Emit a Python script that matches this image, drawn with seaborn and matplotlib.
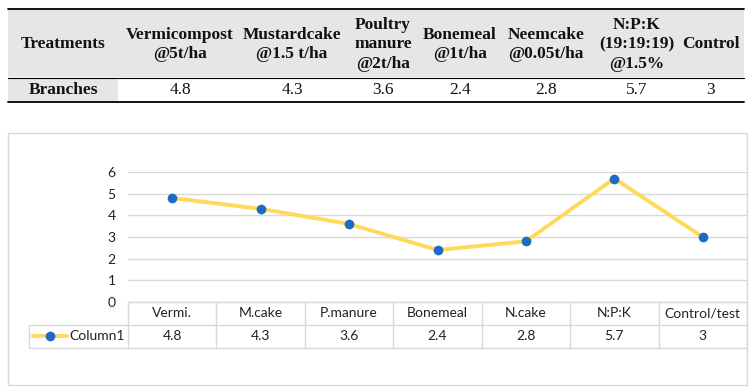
import numpy as np
import matplotlib
matplotlib.use("Agg")
import matplotlib.pyplot as plt
import matplotlib.transforms as mtransforms
from matplotlib.patches import Rectangle
import seaborn as sns

# ==========================
# data
# ==========================
treatments = ["Vermicompost\n@5t/ha", "Mustardcake\n@1.5 t/ha", "Poultry\nmanure\n@2t/ha",
              "Bonemeal\n@1t/ha", "Neemcake\n@0.05t/ha", "N:P:K\n(19:19:19)\n@1.5%", "Control"]
branches = [4.8, 4.3, 3.6, 2.4, 2.8, 5.7, 3]
short_names = ["Vermi.", "M.cake", "P.manure", "Bonemeal", "N.cake", "N:P:K", "Control/test"]
series_name = "Column1"
y_ticks = [0, 1, 2, 3, 4, 5, 6]

# ==========================
# style
# ==========================
sns.set_theme(style="white")
plt.rcParams["font.family"] = ["Lato", "DejaVu Sans"]

W, H = 753, 391
fig = plt.figure(figsize=(W / 100, H / 100), dpi=100)

# pixel overlay for the top table and the chart frame
bg = fig.add_axes([0, 0, 1, 1], zorder=0)
bg.set_xlim(0, W)
bg.set_ylim(H, 0)
bg.axis("off")

grey = "#e7e6e6"
serif = ["Liberation Serif", "DejaVu Serif"]

# top table
bg.add_patch(Rectangle((8, 9), 736, 68, color=grey, lw=0))
bg.add_patch(Rectangle((8, 79), 110, 22, color=grey, lw=0))
bg.plot([8, 744], [9, 9], color="black", lw=1.3)
bg.plot([8, 744], [78, 78], color="black", lw=0.8)
bg.plot([8, 744], [101.5, 101.5], color="black", lw=1.3)

bg.text(63, 44.5, "Treatments", family=serif, fontweight="bold", fontsize=12.5,
        ha="center", va="center", color="#111111")
bg.text(63, 90, "Branches", family=serif, fontweight="bold", fontsize=12.5,
        ha="center", va="center", color="#111111")
col_x = [180, 292, 383, 460, 546, 637, 711]
for cx, lab, val in zip(col_x, treatments, branches):
    bg.text(cx, 44.5, lab, family=serif, fontweight="bold", fontsize=12.5,
            ha="center", va="center", linespacing=1.32, color="#111111")
    bg.text(cx, 90, f"{val:g}", family=serif, fontsize=12.5,
            ha="center", va="center", color="#111111")

# chart frame
bg.add_patch(Rectangle((8.5, 132.5), 738.5, 252.5, fill=False, ec="#d9d9d9", lw=1))

# ==========================
# line chart
# ==========================
x0, x1, ytop, ybot = 128, 747, 172, 302
ax = fig.add_axes([x0 / W, 1 - ybot / H, (x1 - x0) / W, (ybot - ytop) / H], zorder=2)
ax.patch.set_alpha(0)

sns.lineplot(x=short_names, y=branches, sort=False, ax=ax, color="#ffd95a", lw=2.8,
             marker="o", markersize=7, markerfacecolor="#1f6bc4",
             markeredgecolor="#1f6bc4", markeredgewidth=0, clip_on=False, zorder=3)

ax.set_xlim(-0.5, len(short_names) - 0.5)
ax.set_ylim(0, 6)
ax.set_yticks(y_ticks)
ax.yaxis.grid(True, color="#d9d9d9", lw=1)
ax.set_axisbelow(True)
for s in ax.spines.values():
    s.set_visible(False)
ax.tick_params(axis="y", length=0, pad=9, labelsize=10, labelcolor="#222222")
ax.set_xticks([])
ax.set_xlabel("")
ax.set_ylabel("")

# data table under the chart
tr = mtransforms.blended_transform_factory(ax.transData, fig.transFigure)
fy = lambda py: 1 - py / H
r0, r1, r2 = 302, 324.5, 348
line_c = "#d9d9d9"
n = len(short_names)
for yy in (r0, r1, r2):
    ax.plot([-0.5, n - 0.5], [fy(yy)] * 2, transform=tr, color=line_c, lw=1, clip_on=False)
for i in range(n + 1):
    ax.plot([i - 0.5] * 2, [fy(r0), fy(r2)], transform=tr, color=line_c, lw=1, clip_on=False)
for i, (nm, v) in enumerate(zip(short_names, branches)):
    ax.text(i, fy((r0 + r1) / 2), nm, transform=tr, ha="center", va="center",
            fontsize=10, color="#222222")
    ax.text(i, fy((r1 + r2) / 2), f"{v:g}", transform=tr, ha="center", va="center",
            fontsize=10, color="#222222")

# legend cell
bg.plot([29, x0], [r1, r1], color=line_c, lw=1)
bg.plot([29, x0], [r2, r2], color=line_c, lw=1)
bg.plot([29, 29], [r1, r2], color=line_c, lw=1)
bg.plot([33, 67], [(r1 + r2) / 2] * 2, color="#ffd95a", lw=2.8)
bg.plot([50], [(r1 + r2) / 2], "o", color="#1f6bc4", markersize=7, markeredgewidth=0)
bg.text(69, (r1 + r2) / 2, series_name, ha="left", va="center", fontsize=10, color="#222222")

fig.savefig("out.png", dpi=100)
